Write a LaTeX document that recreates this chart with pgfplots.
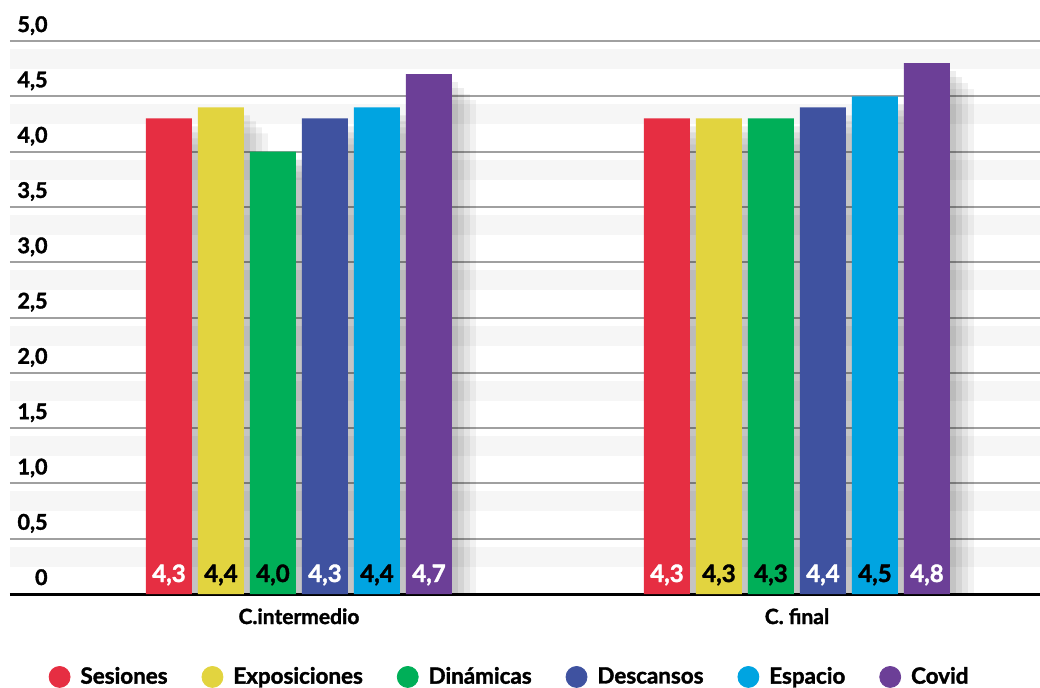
\documentclass[border=0pt]{standalone}
\usepackage{fontspec}
\setmainfont{Lato}[BoldFeatures={FakeBold=1.6}]
\usepackage{pgfplots}
\pgfplotsset{compat=1.18}

\definecolor{cRed}{HTML}{E62E42}
\definecolor{cYellow}{HTML}{E2D43F}
\definecolor{cGreen}{HTML}{00AF58}
\definecolor{cBlue}{HTML}{3F52A0}
\definecolor{cCyan}{HTML}{00A4E1}
\definecolor{cPurple}{HTML}{6C3F97}
\definecolor{gridgray}{HTML}{A0A0A0}

\pgfplotsset{
  barsh/.style={
    preaction={fill=black, opacity=0.07, transform canvas={xshift=3pt, yshift=-4pt}},
    preaction={fill=black, opacity=0.07, transform canvas={xshift=6pt, yshift=-7pt}},
    preaction={fill=black, opacity=0.06, transform canvas={xshift=9pt, yshift=-10pt}},
    preaction={fill=black, opacity=0.05, transform canvas={xshift=12pt, yshift=-13pt}}},
  lc/.style={legend image code/.code={\fill[#1] (0pt,0pt) circle (5.25pt);}},
}

\begin{document}
\fontsize{10.5pt}{12.6pt}\selectfont\bfseries
\begin{tikzpicture}
  \path[use as bounding box] (0pt,-46.5pt) rectangle (520pt,297pt);
  \begin{axis}[
      at={(5pt,0pt)}, anchor=south west,
      scale only axis, width=515pt, height=276.5pt,
      ybar, bar width=23pt,
      xmin=-0.5803, xmax=1.4880, ymin=0, ymax=5,
      axis line style={draw=none},
      major tick length=0pt, minor tick length=0pt,
      ytick={0,0.5,1,1.5,2,2.5,3,3.5,4,4.5,5},
      yticklabels={0,{0,5},{1,0},{1,5},{2,0},{2,5},{3,0},{3,5},{4,0},{4,5},{5,0}},
      yticklabel style={anchor=base east, inner sep=0pt, xshift=19pt, yshift=4.5pt,
        font=\fontsize{10.8pt}{13pt}\selectfont\bfseries},
      minor ytick={0.337,0.837,1.337,1.837,2.337,2.837,3.337,3.837,4.337,4.837},
      yminorgrids,
      minor grid style={draw=black!3.5, line width=10pt},
      ymajorgrids,
      major grid style={draw=gridgray, line width=1pt},
      extra y ticks={0}, extra y tick labels={},
      extra y tick style={grid=major, major grid style={draw=black, line width=1.5pt}},
      xtick={0,1}, xticklabels={C.intermedio, C. final},
      xticklabel style={anchor=base, yshift=-15pt, font=\bfseries},
      visualization depends on={y \as \rawy},
      /pgf/number format/use comma,
      /pgf/number format/fixed,
      /pgf/number format/fixed zerofill,
      /pgf/number format/precision=1,
      /pgf/number format/assume math mode=true,
      every node near coord/.append style={font=\fontsize{12pt}{14pt}\selectfont\bfseries,
        anchor=base, shift={(axis direction cs:0,-\rawy)}, yshift=6pt},
      legend columns=6,
      legend style={at={(0.486,-0.15)}, anchor=center, draw=none, fill=none,
        font=\fontsize{11.2pt}{13pt}\selectfont\bfseries, inner sep=0pt,
        /tikz/every odd column/.append style={column sep=3pt},
        /tikz/every even column/.append style={column sep=15pt}},
      legend cell align=left,
    ]
    \addplot[fill=cRed, draw=none, bar shift=-65pt, barsh, forget plot,
      nodes near coords, nodes near coords style={text=white}]
      coordinates {(0,4.3) (1,4.3)};
    \addplot[fill=cYellow, draw=none, bar shift=-39pt, barsh, forget plot,
      nodes near coords, nodes near coords style={text=black}]
      coordinates {(0,4.4) (1,4.3)};
    \addplot[fill=cGreen, draw=none, bar shift=-13pt, barsh, forget plot,
      nodes near coords, nodes near coords style={text=black}]
      coordinates {(0,4.0) (1,4.3)};
    \addplot[fill=cBlue, draw=none, bar shift=13pt, barsh, forget plot,
      nodes near coords, nodes near coords style={text=white}]
      coordinates {(0,4.3) (1,4.4)};
    \addplot[fill=cCyan, draw=none, bar shift=39pt, barsh, forget plot,
      nodes near coords, nodes near coords style={text=black}]
      coordinates {(0,4.4) (1,4.5)};
    \addplot[fill=cPurple, draw=none, bar shift=65pt, barsh, forget plot,
      nodes near coords, nodes near coords style={text=white}]
      coordinates {(0,4.7) (1,4.8)};

    \addlegendimage{lc=cRed}\addlegendentry{Sesiones}
    \addlegendimage{lc=cYellow}\addlegendentry{Exposiciones}
    \addlegendimage{lc=cGreen}\addlegendentry{Dinámicas}
    \addlegendimage{lc=cBlue}\addlegendentry{Descansos}
    \addlegendimage{lc=cCyan}\addlegendentry{Espacio}
    \addlegendimage{lc=cPurple}\addlegendentry{Covid}
  \end{axis}
\end{tikzpicture}
\end{document}
